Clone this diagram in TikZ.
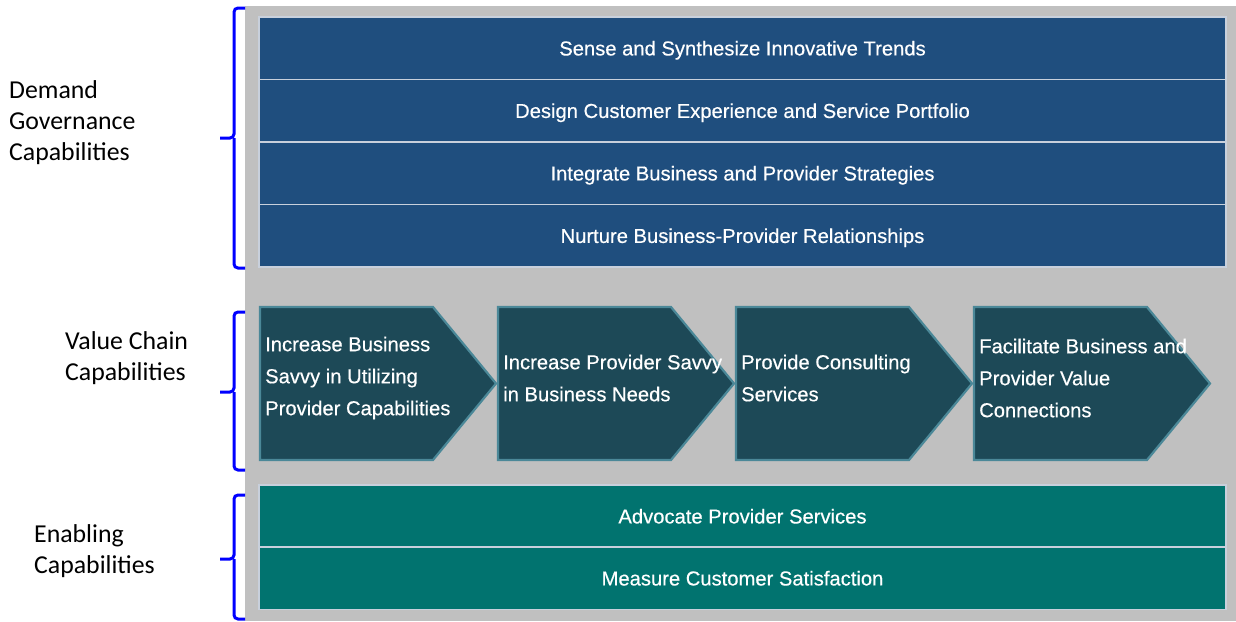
\documentclass[tikz,border=0pt]{standalone}
\usepackage{fontspec}
\newfontfamily\arialf{Liberation Sans}[FakeBold=0.4]
\newfontfamily\calf{Carlito}
\definecolor{graybg}{HTML}{C0C0C0}
\definecolor{blueblk}{HTML}{1F4E7E}
\definecolor{chevfill}{HTML}{1D4957}
\definecolor{chevdraw}{HTML}{4B8898}
\definecolor{tealblk}{HTML}{01736F}
\definecolor{rowline}{HTML}{C8D0DC}
\definecolor{bracecol}{HTML}{0000FF}
\tikzset{
  rowbox/.style={draw=rowline, line width=1.2pt, minimum width=967pt, minimum height=62.5pt, inner sep=0pt, text height=15pt, text depth=0.6pt, text=white, font=\arialf\fontsize{20.2}{24}\selectfont},
  bluerow/.style={rowbox, fill=blueblk},
  tealrow/.style={rowbox, fill=tealblk},
  chevshape/.style={draw=chevdraw, line width=2.2pt, fill=chevfill, line join=miter},
  chevtext/.style={anchor=west, inner sep=0pt, align=left, text=white, font=\arialf\fontsize{20.2}{32}\selectfont},
  bracepath/.style={draw=bracecol, line width=3pt, rounded corners=4pt},
  sidelabel/.style={anchor=west, inner sep=0pt, align=left, font=\calf\fontsize{25.8}{31}\selectfont}
}
\usetikzlibrary{calc}
\newcommand{\chevronat}[3]{%
  \coordinate (#2nw) at (#1,307);
  \draw[chevshape] (#2nw) -- ++(173,0) -- ++(63,76.5) -- ++(-63,76.5) -- ++(-173,0) -- cycle;
  \node[chevtext] (#2) at ($(#2nw)+(5,71)$) {#3};
}
\begin{document}
\begin{tikzpicture}[x=1pt, y=-1pt]
\useasboundingbox (0,0) rectangle (1236,621);
\fill[graybg] (245,6) rectangle (1236,621);
% demand governance rows
\node[bluerow] (d1) at (742.5,48.25) {Sense and Synthesize Innovative Trends};
\node[bluerow] (d2) at (742.5,110.75) {Design Customer Experience and Service Portfolio};
\node[bluerow] (d3) at (742.5,173.25) {Integrate Business and Provider Strategies};
\node[bluerow] (d4) at (742.5,235.75) {Nurture Business-Provider Relationships};
% value chain chevrons
\chevronat{260}{c1}{Increase Business\\Savvy in Utilizing\\Provider Capabilities}
\chevronat{498}{c2}{Increase Provider Savvy\\in Business Needs}
\chevronat{736}{c3}{Provide Consulting\\Services}
\chevronat{974}{c4}{Facilitate Business and\\Provider Value\\Connections}
% enabling rows
\node[tealrow] (e1) at (742.5,516.25) {Advocate Provider Services};
\node[tealrow] (e2) at (742.5,578.25) {Measure Customer Satisfaction};
% braces
\draw[bracepath] (245,8) -- (234,8) -- (234,138) -- (220,138);
\draw[bracepath] (234,138) -- (234,268) -- (245,268);
\draw[bracepath] (245,312) -- (234,312) -- (234,392) -- (220,392);
\draw[bracepath] (234,392) -- (234,470) -- (245,470);
\draw[bracepath] (245,495) -- (234,495) -- (234,559) -- (220,559);
\draw[bracepath] (234,559) -- (234,619) -- (245,619);
% labels
\node[sidelabel] (l1) at (9,123) {Demand\\Governance\\Capabilities};
\node[sidelabel] (l2) at (65,358) {Value Chain\\Capabilities};
\node[sidelabel] (l3) at (34,551) {Enabling\\Capabilities};
\end{tikzpicture}
\end{document}
